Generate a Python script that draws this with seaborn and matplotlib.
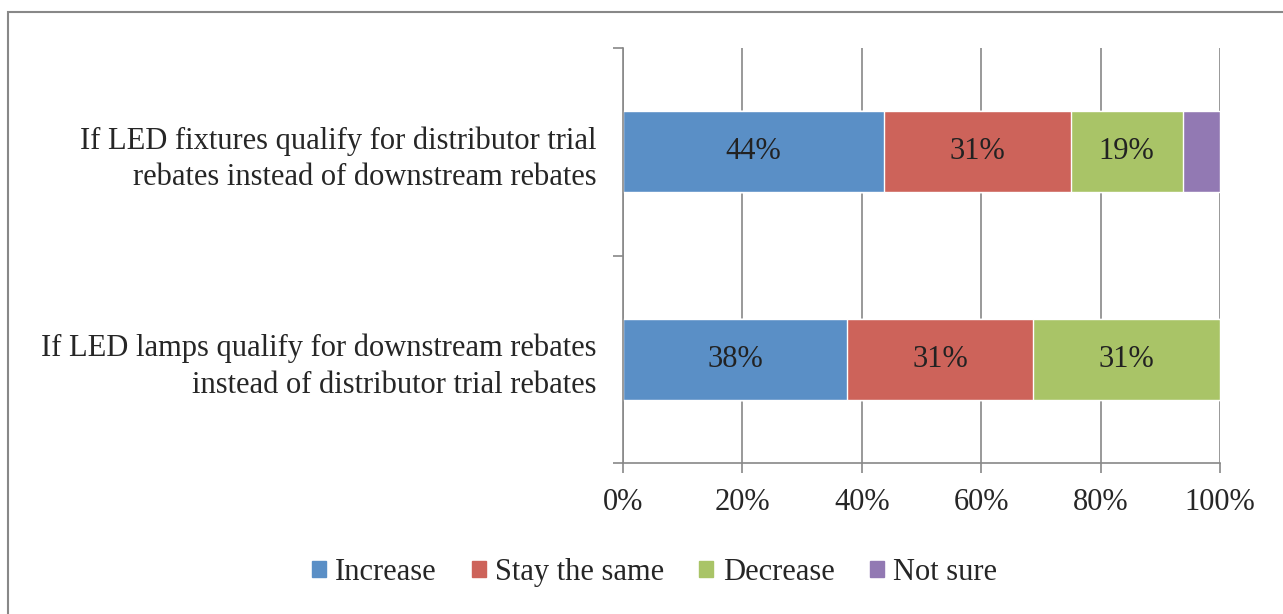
import seaborn as sns
import matplotlib.pyplot as plt
import pandas as pd
import numpy as np

questions = [
    "If LED fixtures qualify for distributor trial\nrebates instead of downstream rebates",
    "If LED lamps qualify for downstream rebates\ninstead of distributor trial rebates",
]
responses = ["Increase", "Stay the same", "Decrease", "Not sure"]
increase = [43.75, 37.5]
stay_same = [31.25, 31.25]
decrease = [18.75, 31.25]
not_sure = [6.25, 0.0]
colors = ["#5A8FC6", "#CD635A", "#A9C467", "#9279B3"]

sns.set_style("white")
plt.rcParams["font.family"] = ["Liberation Serif", "DejaVu Serif"]
FS = 22

df = pd.DataFrame({"question": questions, "Increase": increase,
                   "Stay the same": stay_same, "Decrease": decrease,
                   "Not sure": not_sure})
cum = df[responses].cumsum(axis=1)

fig = plt.figure(figsize=(12.83, 6.14), dpi=100)
ax = fig.add_axes([0.4856, 0.2459, 0.4653, 0.6759])
ax.set_axisbelow(True)

# stacked bars: draw cumulative totals from widest to narrowest
for resp, col in reversed(list(zip(responses, colors))):
    sns.barplot(data=cum.assign(question=questions), x=resp, y="question",
                color=col, width=0.39, saturation=1, ax=ax, zorder=2)

# segment labels
for i in range(len(questions)):
    for resp in responses[:3]:
        v = df.loc[i, resp]
        mid = cum.loc[i, resp] - v / 2
        ax.text(mid, i, f"{v:.0f}%", ha="center", va="center",
                fontsize=FS, color="#222222", zorder=3)

ax.set_xlim(0, 100)
ax.set_ylim(1.5, -0.5)
ax.set_xticks(np.arange(0, 101, 20))
ax.set_xticklabels([f"{t}%" for t in range(0, 101, 20)], fontsize=FS)
ax.set_yticks([0, 1])
ax.set_yticklabels(questions, fontsize=FS, linespacing=1.35)
ax.set_yticks([-0.5, 0.5, 1.5], minor=True)
ax.tick_params(axis="y", which="major", left=True, length=0, pad=19)
ax.tick_params(axis="y", which="minor", left=True, length=7, width=1.2,
               color="#888888", direction="out")
ax.tick_params(axis="x", bottom=True, length=7, width=1.2, color="#888888",
               direction="out", pad=11)
ax.set_xlabel("")
ax.set_ylabel("")
ax.xaxis.grid(True, color="#888888", linewidth=1.2)
for s in ["top", "right"]:
    ax.spines[s].set_visible(False)
for s in ["left", "bottom"]:
    ax.spines[s].set_color("#888888")
    ax.spines[s].set_linewidth(1.2)

handles = [plt.Rectangle((0, 0), 1, 1, color=c) for c in colors]
fig.legend(handles, responses, loc="center", bbox_to_anchor=(0.51, 0.068), ncol=4,
           frameon=False, fontsize=FS, handlelength=0.46, handleheight=0.46,
           handletextpad=0.3, columnspacing=1.15)

# outer frame
fig.patches.append(plt.Rectangle((8 / 1283, -0.01), 1.1, 1 - 12 / 614 + 0.01,
                                 transform=fig.transFigure, fill=False,
                                 edgecolor="#888888", linewidth=1.5))

fig.savefig("out.png", dpi=100)
